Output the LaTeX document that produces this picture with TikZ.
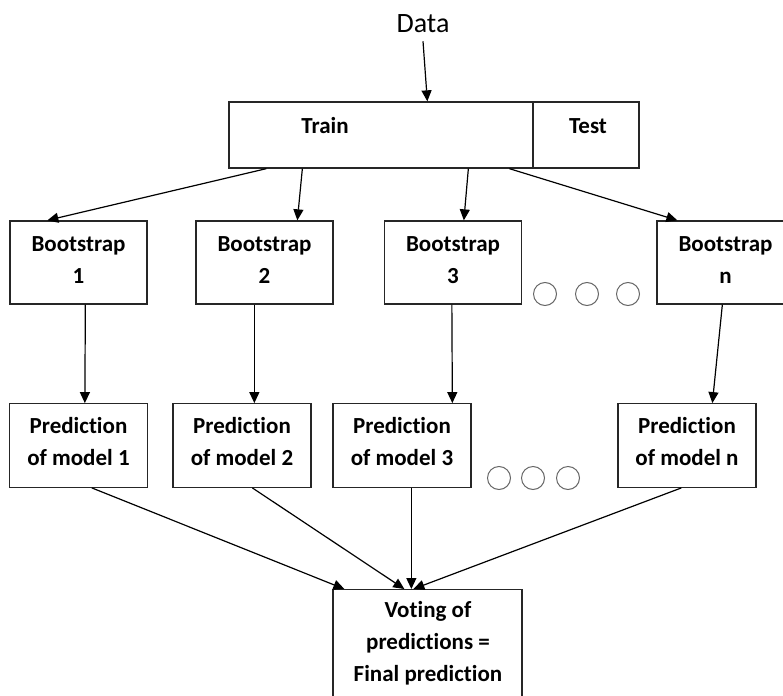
\documentclass[tikz,border=0pt]{standalone}
\usepackage{fontspec}
\setmainfont{Carlito}[Ligatures=NoCommon]
\usetikzlibrary{arrows.meta}
\begin{document}
\begin{tikzpicture}[x=1pt,y=-1pt,
  box/.style={draw=black!85, line width=1.3pt, inner sep=0pt},
  lbl/.style={font=\bfseries\fontsize{23}{32}\selectfont, align=center, inner sep=0pt},
  bsbox/.style={box, lbl, minimum width=137pt, minimum height=83pt, text depth=5pt},
  prbox/.style={box, lbl, minimum width=138pt, minimum height=83.5pt, text depth=8pt},
  arr/.style={-{Triangle[length=11pt,width=10pt]}, line width=1.2pt},
  dot/.style={circle, draw=black!60, line width=1pt, minimum size=23pt, inner sep=0pt}]
\useasboundingbox (0,0) rectangle (783,695);

% Data
\node[font=\fontsize{28}{32}\selectfont, inner sep=0pt] (data) at (423,24) {Data};

% Train / Test
\node[box, minimum width=304pt, minimum height=66pt] (train) at (381,135) {};
\node[box, minimum width=106pt, minimum height=66pt] (test) at (586,135) {};
\node[lbl] (traintxt) at (325,126) {Train};
\node[lbl] (testtxt) at (588,126) {Test};

% Bootstraps
\node[bsbox] (b1) at (78.5,262.5) {Bootstrap\\1};
\node[bsbox] (b2) at (264.5,262.5) {Bootstrap\\2};
\node[bsbox] (b3) at (453,262.5) {Bootstrap\\3};
\node[bsbox] (bn) at (725.5,262.5) {Bootstrap\\n};
\node[dot] (c1) at (545,294) {};
\node[dot] (c2) at (587,294) {};
\node[dot] (c3) at (628,294) {};

% Predictions
\node[prbox] (p1) at (78.5,445.5) {Prediction\\of model 1};
\node[prbox] (p2) at (242,445.5) {Prediction\\of model 2};
\node[prbox] (p3) at (402,445.5) {Prediction\\of model 3};
\node[prbox] (pn) at (687,445.5) {Prediction\\of model n};
\node[dot] (d1) at (499,478) {};
\node[dot] (d2) at (533,478) {};
\node[dot] (d3) at (568,478) {};

% Voting
\node[box, minimum width=189pt, minimum height=120pt, anchor=north] (vote) at (427.5,589) {};
\node[lbl] (votetxt) at (428,643) {Voting of\\predictions =\\Final prediction};

% Connectors
\draw[arr] ([yshift=-8pt]data.south) -- ([xshift=199pt]train.north west);

\draw[arr] ([xshift=38pt]train.south west) -- ([xshift=38pt]b1.north west);
\draw[arr] ([xshift=74pt]train.south west) -- ([xshift=102pt]b2.north west);
\draw[arr] ([xshift=240pt]train.south west) -- ([xshift=80pt]b3.north west);
\draw[arr] ([xshift=281pt]train.south west) -- ([xshift=21pt]bn.north west);

\draw[arr] ([xshift=76pt]b1.south west) -- ([xshift=76pt]p1.north west);
\draw[arr] ([xshift=59pt]b2.south west) -- ([xshift=82pt]p2.north west);
\draw[arr] ([xshift=68pt]b3.south west) -- ([xshift=120pt]p3.north west);
\draw[arr] ([xshift=66pt]bn.south west) -- ([xshift=95pt]pn.north west);

\draw[arr] ([xshift=83pt]p1.south west) -- ([xshift=12pt]vote.north west);
\draw[arr] ([xshift=80pt]p2.south west) -- ([xshift=72pt]vote.north west);
\draw[arr] ([xshift=79pt]p3.south west) -- ([xshift=79pt]vote.north west);
\draw[arr] ([xshift=64pt]pn.south west) -- ([xshift=81pt]vote.north west);
\end{tikzpicture}
\end{document}
